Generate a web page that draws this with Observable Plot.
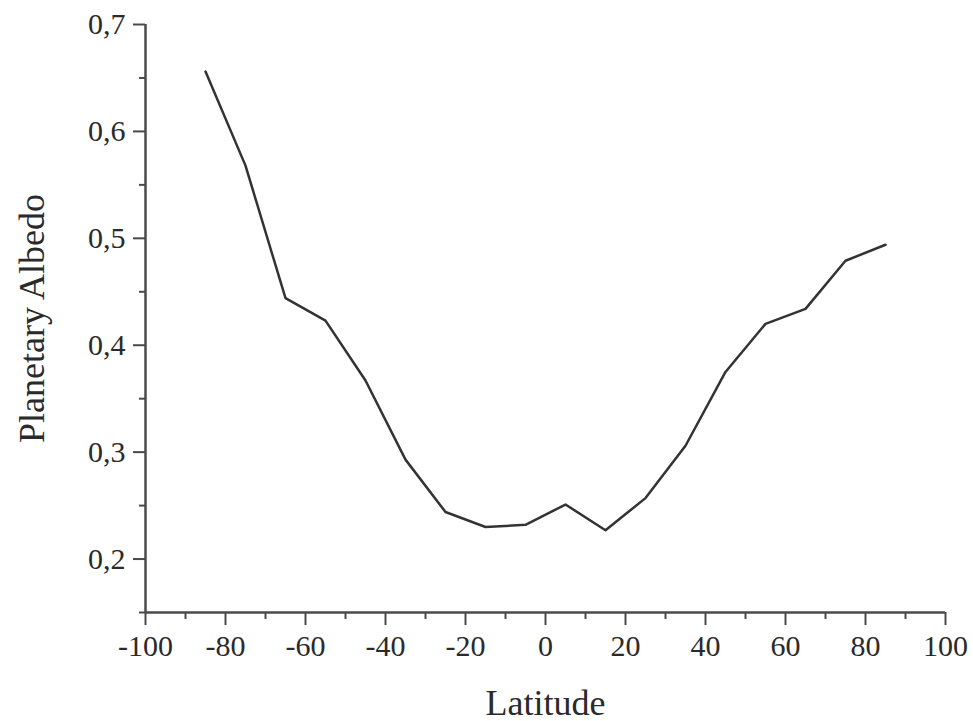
<!DOCTYPE html>
<html>
<head>
<meta charset="utf-8">
<script src="https://cdn.jsdelivr.net/npm/d3@7"></script>
<script src="https://cdn.jsdelivr.net/npm/@observablehq/plot@0.6"></script>
<style>
  html, body { margin: 0; padding: 0; background: #fff; }
</style>
</head>
<body>
<div id="chart"></div>
<script>
const latitudes = [-85, -75, -65, -55, -45, -35, -25, -15, -5, 5, 15, 25, 35, 45, 55, 65, 75, 85];
const albedo = [0.656, 0.568, 0.444, 0.423, 0.367, 0.293, 0.244, 0.230, 0.232, 0.251, 0.227, 0.257, 0.306, 0.375, 0.420, 0.434, 0.479, 0.494];
const xMajorTicks = [-100, -80, -60, -40, -20, 0, 20, 40, 60, 80, 100];
const xMinorTicks = [-90, -70, -50, -30, -10, 10, 30, 50, 70, 90];
const yMajorTicks = [0.2, 0.3, 0.4, 0.5, 0.6, 0.7];
const yMinorTicks = [0.15, 0.25, 0.35, 0.45, 0.55, 0.65];
const xTitle = "Latitude";
const yTitle = "Planetary Albedo";

const data = latitudes.map((lat, i) => ({lat, albedo: albedo[i]}));
const axisColor = "#4a4a4a";
const textColor = "#2a2a2a";
const commaFmt = d => d3.format(".1f")(d).replace(".", ",");

const chart = Plot.plot({
  width: 973,
  height: 721,
  marginTop: 24,
  marginBottom: 109,
  marginLeft: 145,
  marginRight: 28,
  style: {fontFamily: "'Liberation Serif', 'Times New Roman', serif", color: textColor, background: "#fff"},
  x: {domain: [-100, 100]},
  y: {domain: [0.15, 0.7]},
  marks: [
    Plot.axisX({ticks: xMinorTicks, tickSize: 7, tickFormat: () => "", stroke: axisColor, strokeWidth: 2, label: null}),
    Plot.axisX({ticks: xMajorTicks, tickSize: 13, tickPadding: 9, tickFormat: d => String(d), fontSize: 30, stroke: axisColor, strokeWidth: 2, fill: textColor, label: null}),
    Plot.axisY({ticks: yMinorTicks, tickSize: 6, tickFormat: () => "", stroke: axisColor, strokeWidth: 2, label: null}),
    Plot.axisY({ticks: yMajorTicks, tickSize: 12, tickPadding: 8, tickFormat: commaFmt, fontSize: 30, stroke: axisColor, strokeWidth: 2, fill: textColor, label: null}),
    Plot.ruleX([-100], {stroke: axisColor, strokeWidth: 2.5}),
    Plot.ruleY([0.15], {stroke: axisColor, strokeWidth: 2.5}),
    Plot.line(data, {x: "lat", y: "albedo", stroke: "#333", strokeWidth: 2.5}),
    Plot.text([xTitle], {frameAnchor: "bottom", dy: 102, fontSize: 36, fill: textColor}),
    Plot.text([yTitle], {frameAnchor: "left", textAnchor: "middle", dx: -113, rotate: -90, fontSize: 36, fill: textColor})
  ]
});
document.getElementById("chart").appendChild(chart);
</script>
</body>
</html>
